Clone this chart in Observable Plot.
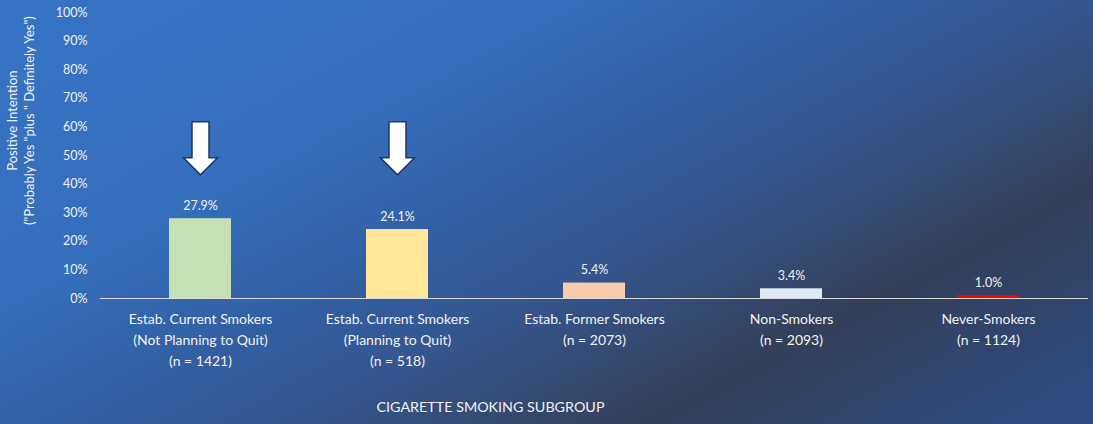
<!DOCTYPE html>
<html>
<head>
<meta charset="utf-8">
<script src="https://cdn.jsdelivr.net/npm/d3@7"></script>
<script src="https://cdn.jsdelivr.net/npm/@observablehq/plot@0.6"></script>
<style>
  html, body { margin: 0; padding: 0; }
  body { width: 1093px; height: 424px; overflow: hidden; }
  svg { display: block; }
</style>
</head>
<body>
<div id="chart"></div>
<script>
const categories = [
  "Estab. Current Smokers\n(Not Planning to Quit)\n(n = 1421)",
  "Estab. Current Smokers\n(Planning to Quit)\n(n = 518)",
  "Estab. Former Smokers\n(n = 2073)",
  "Non-Smokers\n(n = 2093)",
  "Never-Smokers\n(n = 1124)"
];
const values = [27.9, 24.1, 5.4, 3.4, 1.0];
const barColors = ["#c5e0b4", "#ffe699", "#f8cbad", "#deebf7", "#ff0000"];
const yTicks = [0, 10, 20, 30, 40, 50, 60, 70, 80, 90, 100];
const arrowCategories = [categories[0], categories[1]];
const arrowLevels = [52.5, 52.5];
const yTitle = 'Positive Intention\n("Probably Yes "plus " Definitely Yes")';
const xTitle = "CIGARETTE SMOKING SUBGROUP";

const data = categories.map((c, i) => ({category: c, value: values[i], color: barColors[i]}));
const arrows = arrowCategories.map((c, i) => ({category: c, level: arrowLevels[i]}));

const arrowSymbol = {
  draw(ctx, size) {
    ctx.moveTo(-8.5, -26.5);
    ctx.lineTo(8.5, -26.5);
    ctx.lineTo(8.5, 9.5);
    ctx.lineTo(17, 9.5);
    ctx.lineTo(0, 26.5);
    ctx.lineTo(-17, 9.5);
    ctx.lineTo(-8.5, 9.5);
    ctx.closePath();
  }
};

const textColor = "#f2f2f2";
const font = "Lato, 'Noto Sans', sans-serif";

const chart = Plot.plot({
  width: 1093,
  height: 424,
  marginLeft: 100,
  marginRight: 5,
  marginTop: 12,
  marginBottom: 126,
  style: {
    background: "linear-gradient(152deg, #3773c6 0%, #356ebb 30%, #3260a4 45%, #34568f 58%, #343f58 76%, #2e4a80 96%, #2e4a82 100%)",
    fontFamily: font,
    color: textColor
  },
  x: {domain: categories, paddingInner: 0.685, paddingOuter: 0.3425, align: 0.5},
  y: {domain: [0, 100]},
  marks: [
    Plot.axisY({ticks: yTicks, tickFormat: d => d + "%", tickSize: 0, tickPadding: 13, fontSize: 12.5, fill: textColor, label: null}),
    Plot.axisX({tickSize: 0, tickPadding: 11, fontSize: 14, lineHeight: 1.5, fill: textColor, label: null}),
    Plot.barY(data, {x: "category", y: "value", fill: d => d.color}),
    Plot.ruleY([0], {stroke: "#d9d9d9", strokeWidth: 1.2}),
    Plot.text(data, {x: "category", y: "value", text: d => d.value.toFixed(1) + "%", dy: -13, fill: textColor, fontSize: 12.5}),
    Plot.dot(arrows, {x: "category", y: "level", symbol: arrowSymbol, fill: "white", stroke: "#1f3864", strokeWidth: 1.5}),
    Plot.text([yTitle], {frameAnchor: "left", y: [62.2], dx: -80, rotate: -90, text: d => d, textAnchor: "middle", lineAnchor: "middle", fontSize: 13, lineHeight: 1.3, fill: textColor}),
    Plot.text([xTitle], {frameAnchor: "bottom", dx: -104, dy: 113, text: d => d, fontSize: 14.3, fill: textColor})
  ]
});
document.getElementById("chart").appendChild(chart);
</script>
</body>
</html>
